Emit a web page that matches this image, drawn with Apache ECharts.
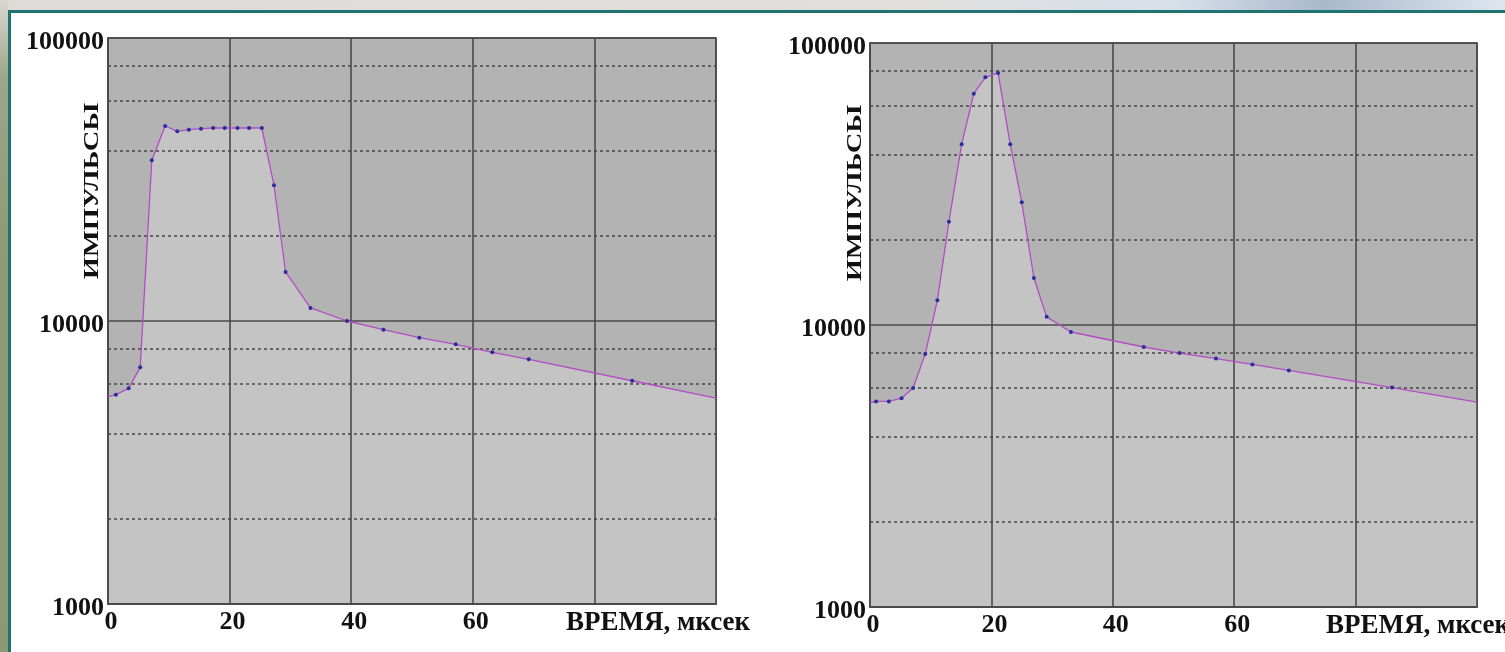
<!DOCTYPE html>
<html>
<head>
<meta charset="utf-8">
<script src="https://cdn.jsdelivr.net/npm/echarts@6/dist/echarts.min.js"></script>
<style>
  html, body { margin:0; padding:0; width:1505px; height:652px; overflow:hidden; background:#fff; }
  #topstrip { position:absolute; left:0; top:0; width:1505px; height:10px;
    background: linear-gradient(90deg, #dedad8 0%, #e2e0de 60%, #d8e0ea 78%, #a9b8cc 88%, #c8d4e2 95%, #dfe6ee 100%); }
  #leftstrip { position:absolute; left:0; top:0; width:8px; height:652px;
    background: linear-gradient(180deg, #d9d7d3 0%, #9aa688 12%, #8c9a76 40%, #8a9874 100%); }
  #topline { position:absolute; left:8px; top:10px; width:1497px; height:3px; background:#1f7471; }
  #leftline { position:absolute; left:8px; top:10px; width:3px; height:642px; background:#1f7471; }
  #chart { position:absolute; left:0; top:0; width:1505px; height:652px; }
</style>
</head>
<body>
<div id="topstrip"></div>
<div id="leftstrip"></div>
<div id="topline"></div>
<div id="leftline"></div>
<div id="chart"></div>
<script>
// ---- data ----
const leftTime = [0, 1.3, 3.4, 5.3, 7.2, 9.4, 11.4, 13.3, 15.3, 17.3, 19.2, 21.3, 23.2, 25.3, 27.3, 29.2, 33.3, 39.3, 45.3, 51.2, 57.2, 63.2, 69.2, 86.2, 100];
const leftCounts = [5390, 5490, 5780, 6860, 36970, 48870, 46790, 47430, 47800, 48080, 48080, 48080, 48080, 48080, 30170, 14900, 11120, 10000, 9320, 8730, 8270, 7750, 7320, 6150, 5340];

const rightTime = [0, 1.0, 3.1, 5.2, 7.1, 9.1, 11.1, 13.0, 15.1, 17.1, 19.0, 21.1, 23.1, 25.0, 27.0, 29.1, 33.1, 45.1, 51, 57, 63, 69, 86, 100];
const rightCounts = [5300, 5360, 5360, 5500, 5980, 7890, 12250, 23240, 43720, 66110, 75560, 78290, 43720, 27230, 14680, 10690, 9445, 8356, 7950, 7600, 7250, 6900, 6000, 5330];

const xTickLabels = [0, 20, 40, 60];
const yTickLabels = [1000, 10000, 100000];
const minorGridValues = [2000, 4000, 6000, 8000, 20000, 40000, 60000, 80000];
const xAxisTitle = 'ВРЕМЯ, мксек';
const yAxisTitle = 'ИМПУЛЬСЫ';

// ---- styling ----
const FONT = "'Liberation Serif', 'Times New Roman', serif";
const GRID_DARK = '#4a4a4a';
const LINE_COLOR = '#b34dc4';
const DOT_COLOR = '#2b2b9c';

function pairs(xs, ys) { return xs.map((x, i) => [x, ys[i]]); }

function xAxisFor(gridIndex, nameGap) {
  return {
    gridIndex, type: 'value', min: 0, max: 100, interval: 20, z: 3,
    axisLine: { show: true, lineStyle: { color: GRID_DARK, width: 1.6 } },
    axisTick: { show: false },
    splitLine: { show: true, lineStyle: { color: GRID_DARK, width: 1.6 } },
    axisLabel: {
      margin: 5, color: '#111', fontFamily: FONT, fontWeight: 'bold', fontSize: 26,
      padding: [0, 0, 0, 6],
      formatter: v => xTickLabels.includes(Math.round(v)) ? String(Math.round(v)) : ''
    },
    name: xAxisTitle, nameLocation: 'end', nameGap: nameGap,
    nameTextStyle: { color: '#111', fontFamily: FONT, fontWeight: 'bold', fontSize: 27,
      align: 'left', verticalAlign: 'top', padding: [6, 0, 0, 0] }
  };
}
function yAxisFor(gridIndex) {
  return {
    gridIndex, type: 'log', logBase: 10, min: 1000, max: 100000, z: 3,
    axisLine: { show: true, lineStyle: { color: GRID_DARK, width: 1.6 } },
    axisTick: { show: false },
    splitLine: { show: true, lineStyle: { color: GRID_DARK, width: 1.6 } },
    axisLabel: {
      margin: 4, color: '#111', verticalAlign: 'middle',
      formatter: v => yTickLabels.includes(Math.round(v)) ? '{t|' + Math.round(v) + '}' : '',
      rich: { t: { fontFamily: FONT, fontWeight: 'bold', fontSize: 26, color: '#111', padding: [8, 0, 0, 0] } }
    }
  };
}
function seriesFor(idx, data) {
  const n = data.length;
  return [
    { type: 'line', xAxisIndex: idx, yAxisIndex: idx, data, z: 1,
      showSymbol: false, lineStyle: { width: 0 }, silent: true,
      areaStyle: { origin: 'start', color: '#c4c4c4', opacity: 1 },
      markLine: {
        silent: true, symbol: 'none', z: 2, label: { show: false },
        lineStyle: { type: [3, 3], color: '#464646', width: 1.5 },
        data: minorGridValues.map(v => ({ yAxis: v }))
      }
    },
    { type: 'line', xAxisIndex: idx, yAxisIndex: idx, data, z: 6,
      symbol: 'circle',
      symbolSize: (v, p) => (p.dataIndex === 0 || p.dataIndex === n - 1) ? 0 : 4,
      itemStyle: { color: DOT_COLOR },
      lineStyle: { color: LINE_COLOR, width: 1.3 }
    }
  ];
}

const chart = echarts.init(document.getElementById('chart'));
chart.setOption({
  animation: false,
  backgroundColor: 'transparent',
  grid: [
    { left: 108, top: 38, width: 608, height: 566, outerBoundsMode: 'none', containLabel: false,
      show: true, backgroundColor: '#b3b3b3', borderColor: GRID_DARK, borderWidth: 1.6 },
    { left: 870, top: 43, width: 607, height: 564, outerBoundsMode: 'none', containLabel: false,
      show: true, backgroundColor: '#b3b3b3', borderColor: GRID_DARK, borderWidth: 1.6 }
  ],
  xAxis: [xAxisFor(0, -150), xAxisFor(1, -151)],
  yAxis: [yAxisFor(0), yAxisFor(1)],
  series: [
    ...seriesFor(0, pairs(leftTime, leftCounts)),
    ...seriesFor(1, pairs(rightTime, rightCounts))
  ],
  graphic: [
    { type: 'text', x: 93, y: 191, rotation: Math.PI / 2, scaleX: 1.36,
      style: { text: yAxisTitle, font: "bold 21px " + FONT, fill: '#111', textAlign: 'center', textVerticalAlign: 'middle' } },
    { type: 'text', x: 856, y: 193, rotation: Math.PI / 2, scaleX: 1.36,
      style: { text: yAxisTitle, font: "bold 21px " + FONT, fill: '#111', textAlign: 'center', textVerticalAlign: 'middle' } }
  ]
});
</script>
</body>
</html>
